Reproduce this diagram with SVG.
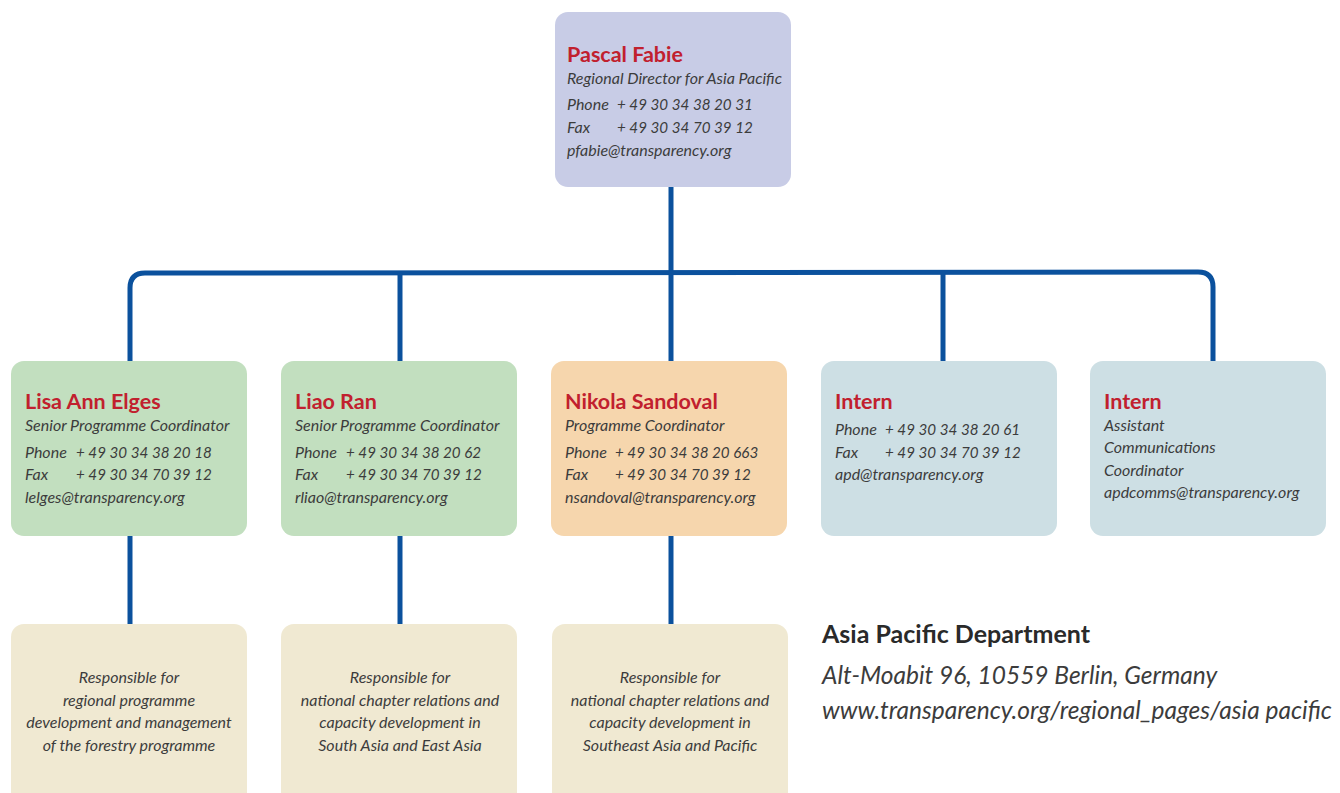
<svg xmlns="http://www.w3.org/2000/svg" width="1340" height="793" viewBox="0 0 1340 793">
<style>
.box{stroke:none}
.name{font-family:Lato,"Liberation Sans",sans-serif;font-weight:bold;font-size:21.5px;fill:#c1202e}
.t{font-family:Lato,"Liberation Sans",sans-serif;font-style:italic;font-size:16px;fill:#3c3c3c}
.n{font-family:Lato,"Liberation Sans",sans-serif;font-style:italic;font-size:15.2px;fill:#3c3c3c}
.c{font-family:Lato,"Liberation Sans",sans-serif;font-style:italic;font-size:16px;fill:#3c3c3c;text-anchor:middle}
.conn{fill:none;stroke:#0b519d;stroke-width:5}
.f{font-family:Lato,"Liberation Sans",sans-serif;font-style:italic;font-size:24.5px;fill:#3c3c3c}
</style>
<rect width="1340" height="793" fill="#ffffff"/>
<g id="connectors">
<path class="conn" d="M671,187 V273"/>
<path class="conn" d="M130,361 V288 Q130,273 145,273 L1198,272 Q1213,272 1213,287 V361"/>
<path class="conn" d="M400,273 V361"/>
<path class="conn" d="M671,273 V361"/>
<path class="conn" d="M943,273 V361"/>
<path class="conn" d="M130,536 V624"/>
<path class="conn" d="M400,536 V624"/>
<path class="conn" d="M671,536 V624"/>
</g>
<g id="pascal">
<rect class="box" x="555" y="12" width="236" height="175" rx="13" fill="#c8cce6"/>
<text class="name" x="567" y="62">Pascal Fabie</text>
<text class="t" x="567" y="84" font-size="15.6">Regional Director for Asia Pacific</text>
<text class="t" x="567" y="110">Phone</text><text class="n" x="617" y="110">+ 49 30 34 38 20 31</text>
<text class="t" x="567" y="133">Fax</text><text class="n" x="617" y="133">+ 49 30 34 70 39 12</text>
<text class="t" x="567" y="156">pfabie@transparency.org</text>
</g>
<g id="lisa">
<rect class="box" x="11" y="361" width="236" height="175" rx="13" fill="#c2dfbf"/>
<text class="name" x="25" y="409">Lisa Ann Elges</text>
<text class="t" x="25" y="431">Senior Programme Coordinator</text>
<text class="t" x="25" y="458">Phone</text><text class="n" x="76" y="458">+ 49 30 34 38 20 18</text>
<text class="t" x="25" y="480">Fax</text><text class="n" x="76" y="480">+ 49 30 34 70 39 12</text>
<text class="t" x="25" y="503">lelges@transparency.org</text>
</g>
<g id="liao">
<rect class="box" x="281" y="361" width="236" height="175" rx="13" fill="#c2dfbf"/>
<text class="name" x="295" y="409">Liao Ran</text>
<text class="t" x="295" y="431">Senior Programme Coordinator</text>
<text class="t" x="295" y="458">Phone</text><text class="n" x="346" y="458">+ 49 30 34 38 20 62</text>
<text class="t" x="295" y="480">Fax</text><text class="n" x="346" y="480">+ 49 30 34 70 39 12</text>
<text class="t" x="295" y="503">rliao@transparency.org</text>
</g>
<g id="nikola">
<rect class="box" x="551" y="361" width="236" height="175" rx="13" fill="#f6d6ad"/>
<text class="name" x="565" y="409">Nikola Sandoval</text>
<text class="t" x="565" y="431">Programme Coordinator</text>
<text class="t" x="565" y="458">Phone</text><text class="n" x="615" y="458">+ 49 30 34 38 20 663</text>
<text class="t" x="565" y="480">Fax</text><text class="n" x="615" y="480">+ 49 30 34 70 39 12</text>
<text class="t" x="565" y="503">nsandoval@transparency.org</text>
</g>
<g id="intern1">
<rect class="box" x="821" y="361" width="236" height="175" rx="13" fill="#cddfe4"/>
<text class="name" x="835" y="409">Intern</text>
<text class="t" x="835" y="435">Phone</text><text class="n" x="885" y="435">+ 49 30 34 38 20 61</text>
<text class="t" x="835" y="458">Fax</text><text class="n" x="885" y="458">+ 49 30 34 70 39 12</text>
<text class="t" x="835" y="480">apd@transparency.org</text>
</g>
<g id="intern2">
<rect class="box" x="1090" y="361" width="236" height="175" rx="13" fill="#cddfe4"/>
<text class="name" x="1104" y="409">Intern</text>
<text class="t" x="1104" y="431">Assistant</text>
<text class="t" x="1104" y="453">Communications</text>
<text class="t" x="1104" y="476">Coordinator</text>
<text class="t" x="1104" y="498">apdcomms@transparency.org</text>
</g>
<g id="resp1">
<rect class="box" x="11" y="624" width="236" height="190" rx="13" fill="#f0e9d2"/>
<text class="c" x="129" y="683">Responsible for</text>
<text class="c" x="129" y="706">regional programme</text>
<text class="c" x="129" y="728">development and management</text>
<text class="c" x="129" y="751">of the forestry programme</text>
</g>
<g id="resp2">
<rect class="box" x="281" y="624" width="236" height="190" rx="13" fill="#f0e9d2"/>
<text class="c" x="400" y="683">Responsible for</text>
<text class="c" x="400" y="706">national chapter relations and</text>
<text class="c" x="400" y="728">capacity development in</text>
<text class="c" x="400" y="751">South Asia and East Asia</text>
</g>
<g id="resp3">
<rect class="box" x="552" y="624" width="236" height="190" rx="13" fill="#f0e9d2"/>
<text class="c" x="670" y="683">Responsible for</text>
<text class="c" x="670" y="706">national chapter relations and</text>
<text class="c" x="670" y="728">capacity development in</text>
<text class="c" x="670" y="751">Southeast Asia and Pacific</text>
</g>
<g id="footer">
<text x="822" y="643" font-family="Lato,'Liberation Sans',sans-serif" font-weight="bold" font-size="25" fill="#2a2a2a">Asia Pacific Department</text>
<text class="f" x="822" y="684">Alt-Moabit 96, 10559 Berlin, Germany</text>
<text class="f" x="822" y="719">www.transparency.org/regional_pages/asia pacific</text>
</g>
</svg>
